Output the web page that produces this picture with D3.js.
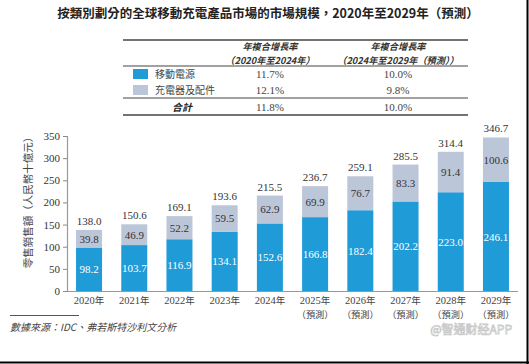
<!DOCTYPE html>
<html><head><meta charset="utf-8">
<script src="https://cdn.jsdelivr.net/npm/d3@7"></script>
<style>body{margin:0;background:#fff}svg{display:block}</style>
</head><body>
<svg id="c" width="529" height="364"></svg>
<script>
const years = ["2020年","2021年","2022年","2023年","2024年","2025年","2026年","2027年","2028年","2029年"];
const forecast = [false,false,false,false,false,true,true,true,true,true];
const powerBank = [98.2,103.7,116.9,134.1,152.6,166.8,182.4,202.2,223.0,246.1];
const chargers = [39.8,46.9,52.2,59.5,62.9,69.9,76.7,83.3,91.4,100.6];
const totals = [138.0,150.6,169.1,193.6,215.5,236.7,259.1,285.5,314.4,346.7];
const yTicks = [0,50,100,150,200,250,300,350];
const seriesNames = ["移動電源","充電器及配件"];
const cagr1 = ["11.7%","12.1%","11.8%"];
const cagr2 = ["10.0%","9.8%","10.0%"];
const colors = ["#1f9bd8","#bcc6d9"];

const svg = d3.select("#c");
const serif = "'Liberation Serif','Times New Roman',serif";
const cjk = "'Noto Sans CJK TC','Noto Sans CJK SC',sans-serif";

// border
svg.append("line").attr("x1",527.5).attr("x2",527.5).attr("y1",0).attr("y2",364).attr("stroke","#000").attr("stroke-width",2);
svg.append("line").attr("x1",0).attr("x2",529).attr("y1",362.5).attr("y2",362.5).attr("stroke","#000").attr("stroke-width",2);

// title
svg.append("text").attr("x",268).attr("y",18).attr("text-anchor","middle")
  .attr("font-family",cjk).attr("font-weight","bold").attr("font-size",12.5).attr("fill","#222")
  .text("按類別劃分的全球移動充電產品市場的市場規模，2020年至2029年（預測）");

// table
const tL=123, tR=468, c1=270, c2=398;
const tbl = svg.append("g").attr("font-size",10).attr("fill","#333");
[[40,1.5],[66,1],[98,1],[115,1.5]].forEach(([y,w])=>{
  tbl.append("line").attr("x1",tL).attr("x2",tR).attr("y1",y).attr("y2",y).attr("stroke","#444").attr("stroke-width",w);
});
const hdr=[[c1,"年複合增長率","（2020年至2024年）"],[c2,"年複合增長率","（2024年至2029年（預測））"]];
hdr.forEach(([x,a,b])=>{
  tbl.append("text").attr("x",x).attr("y",50).attr("text-anchor","middle").attr("font-family",cjk).attr("font-size",9.2).attr("font-style","italic").attr("font-weight","bold").attr("fill","#333").text(a);
  tbl.append("text").attr("x",x).attr("y",63.5).attr("text-anchor","middle").attr("font-family",cjk).attr("font-size",9.2).attr("font-style","italic").attr("font-weight","bold").attr("fill","#333").text(b);
});
const rowY=[78,94,111];
seriesNames.forEach((n,i)=>{
  tbl.append("rect").attr("x",133).attr("y",rowY[i]-9).attr("width",15).attr("height",10).attr("fill",colors[i]);
  tbl.append("text").attr("x",155).attr("y",rowY[i]).attr("font-family",cjk).attr("fill","#444").text(n);
});
tbl.append("text").attr("x",182).attr("y",rowY[2]).attr("text-anchor","middle").attr("font-family",cjk).attr("font-style","italic").attr("font-weight","bold").attr("fill","#222").text("合計");
rowY.forEach((y,i)=>{
  tbl.append("text").attr("x",c1).attr("y",y).attr("text-anchor","middle").attr("font-family",serif).attr("font-size",11).attr("fill","#444").text(cagr1[i]);
  tbl.append("text").attr("x",c2).attr("y",y).attr("text-anchor","middle").attr("font-family",serif).attr("font-size",11).attr("fill","#444").text(cagr2[i]);
});

// chart
const x = d3.scaleBand().domain(years).range([67,518]).paddingInner(0.425).paddingOuter(0.2);
const y = d3.scaleLinear().domain([0,350]).range([291,136]);

const yAxis = svg.append("g").attr("transform","translate(67,0)")
  .call(d3.axisLeft(y).tickValues(yTicks).tickSize(4).tickPadding(3));
yAxis.selectAll("text").attr("font-family",serif).attr("font-size",11).attr("fill","#333");
yAxis.selectAll("line").attr("stroke","#888");
yAxis.select(".domain").attr("stroke","#999").attr("stroke-width",1.2);

svg.append("line").attr("x1",67).attr("x2",518).attr("y1",291.5).attr("y2",291.5).attr("stroke","#999").attr("stroke-width",1.2);

const g = svg.append("g");
years.forEach((yr,i)=>{
  const bx=x(yr), bw=x.bandwidth();
  g.append("rect").attr("x",bx).attr("y",y(powerBank[i])).attr("width",bw).attr("height",y(0)-y(powerBank[i])).attr("fill",colors[0]);
  g.append("rect").attr("x",bx).attr("y",y(powerBank[i]+chargers[i])).attr("width",bw).attr("height",y(powerBank[i])-y(powerBank[i]+chargers[i])).attr("fill",colors[1]);
  const cx=bx+bw/2;
  g.append("text").attr("x",cx).attr("y",(y(0)+y(powerBank[i]))/2+4).attr("text-anchor","middle").attr("font-family",serif).attr("font-size",11).attr("fill","#fff").text(powerBank[i].toFixed(1));
  g.append("text").attr("x",cx).attr("y",(y(powerBank[i])+y(powerBank[i]+chargers[i]))/2+4).attr("text-anchor","middle").attr("font-family",serif).attr("font-size",11).attr("fill","#333").text(chargers[i].toFixed(1));
  g.append("text").attr("x",cx).attr("y",y(totals[i])-5).attr("text-anchor","middle").attr("font-family",serif).attr("font-size",11).attr("fill","#333").text(totals[i].toFixed(1));
  const t = g.append("text").attr("x",cx).attr("y",303.5).attr("text-anchor","middle").attr("font-size",10.5).attr("fill","#444");
  t.append("tspan").attr("font-family",serif).text(yr.slice(0,4));
  t.append("tspan").attr("font-family",cjk).attr("font-size",9.5).text("年");
  if(forecast[i]) g.append("text").attr("x",cx).attr("y",317.5).attr("text-anchor","middle").attr("font-family",cjk).attr("font-size",9.2).attr("fill","#444").text("（預測）");
});

// y axis title
svg.append("text").attr("transform","translate(32,200) rotate(-90)").attr("text-anchor","middle")
  .attr("font-family",cjk).attr("font-size",10.5).attr("fill","#444").text("零售銷售額（人民幣十億元）");

// footer
svg.append("line").attr("x1",10).attr("x2",79).attr("y1",315.5).attr("y2",315.5).attr("stroke","#555").attr("stroke-width",1);
svg.append("text").attr("x",10).attr("y",331).attr("font-family",cjk).attr("font-style","italic").attr("font-size",10).attr("fill","#444").text("數據來源：IDC、弗若斯特沙利文分析");
svg.append("text").attr("x",512).attr("y",334).attr("text-anchor","end").attr("font-family",cjk).attr("font-size",12).attr("fill","#fff").attr("stroke","#ccc").attr("stroke-width",0.8).text("@智通财经APP");
</script>
</body></html>
